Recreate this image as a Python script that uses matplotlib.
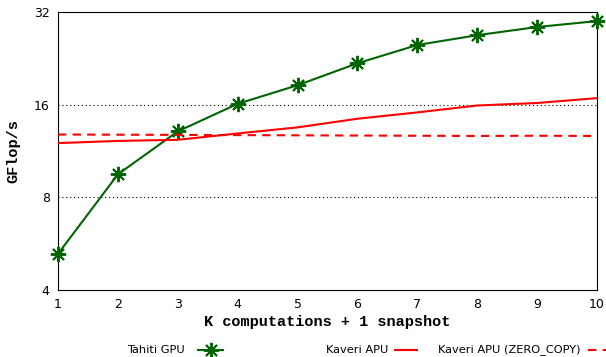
import numpy as np
import matplotlib
matplotlib.use("Agg")
import matplotlib.pyplot as plt
from matplotlib.lines import Line2D

k = [1, 2, 3, 4, 5, 6, 7, 8, 9, 10]
tahiti = [5.24, 9.5, 13.1, 16.1, 18.5, 21.8, 25.0, 26.9, 28.6, 29.9]
kaveri = [12.0, 12.2, 12.3, 12.9, 13.5, 14.4, 15.1, 15.9, 16.2, 16.8]
kaveri_zc = [12.8, 12.78, 12.76, 12.74, 12.72, 12.7, 12.68, 12.66, 12.68, 12.66]
yticks = [4, 8, 16, 32]

green = "#006400"
star = (8, 2, 0)

fig = plt.figure(figsize=(6.06, 3.57), dpi=100)
ax = fig.add_axes([0.0957, 0.1877, 0.8893, 0.7787])

ax.plot(k, tahiti, color=green, lw=1.5, marker=star, ms=11, mew=1.4,
        clip_on=False, zorder=3)
ax.plot(k, kaveri, color="red", lw=1.5, zorder=3)
ax.plot(k, kaveri_zc, color="red", lw=1.5, ls=(0, (4, 3)), zorder=3)

ax.set_yscale("log", base=2)
ax.set_ylim(4, 32)
ax.set_xlim(1, 10)
ax.set_yticks(yticks)
ax.set_yticklabels([str(v) for v in yticks])
ax.minorticks_off()
ax.set_xticks(k)
ax.tick_params(direction="in", length=0, labelsize=9, pad=6)
for y in [8, 16]:
    ax.axhline(y, color="black", lw=0.8, ls=(0, (1, 2.5)), zorder=1)

mono = {"family": "Liberation Mono", "weight": "bold", "size": 11}
ax.set_xlabel("K computations + 1 snapshot", fontdict=mono, labelpad=3)
ax.set_ylabel("GFlop/s", fontdict=mono, labelpad=10)

# legend in a row below the plot, gnuplot style (label then sample)
ly = 0.02
fs = 8.2
fig.text(185 / 606, ly, "Tahiti GPU", ha="right", va="center", fontsize=fs)
fig.add_artist(Line2D([198 / 606, 223 / 606], [ly, ly], color=green, lw=1.5))
fig.add_artist(Line2D([210.5 / 606], [ly], color=green, marker=star,
                      ms=11, mew=1.4))
fig.text(388 / 606, ly, "Kaveri APU", ha="right", va="center", fontsize=fs)
fig.add_artist(Line2D([395 / 606, 417 / 606], [ly, ly], color="red", lw=1.5))
fig.text(581 / 606, ly, "Kaveri APU (ZERO_COPY)", ha="right", va="center", fontsize=fs)
fig.add_artist(Line2D([588 / 606, 606 / 606], [ly, ly], color="red", lw=1.5,
                      ls=(0, (4, 3))))

fig.savefig("out.png", dpi=100)
